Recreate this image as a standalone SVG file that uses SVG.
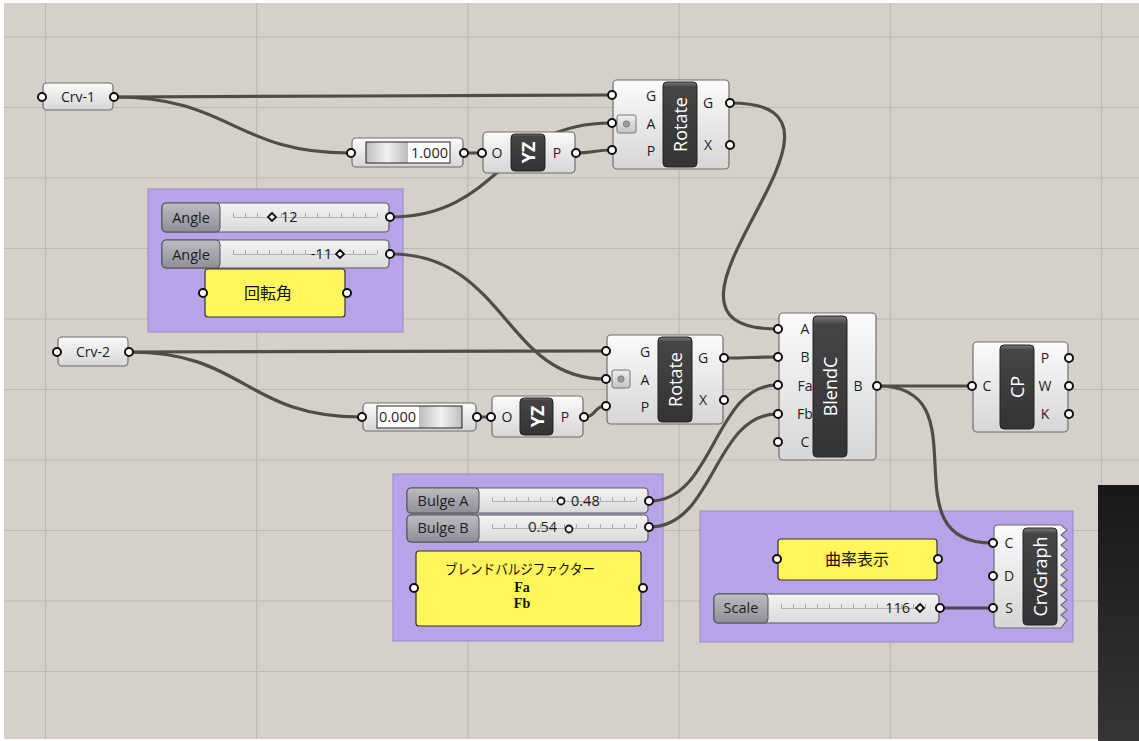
<svg xmlns="http://www.w3.org/2000/svg" width="1139" height="741" viewBox="0 0 1139 741">
<defs>
<linearGradient id="comp" x1="0" y1="0" x2="0" y2="1"><stop offset="0" stop-color="#fbfbfb"/><stop offset="1" stop-color="#d6d6d6"/></linearGradient>
<linearGradient id="dark" x1="0" y1="0" x2="0" y2="1"><stop offset="0" stop-color="#7a7a7a"/><stop offset="0.06" stop-color="#454545"/><stop offset="1" stop-color="#333333"/></linearGradient>
<linearGradient id="lbl" x1="0" y1="0" x2="0" y2="1"><stop offset="0" stop-color="#bdbcc3"/><stop offset="1" stop-color="#8f8e97"/></linearGradient>
<linearGradient id="sld" x1="0" y1="0" x2="0" y2="1"><stop offset="0" stop-color="#f4f4f4"/><stop offset="1" stop-color="#d9d9d9"/></linearGradient>
<linearGradient id="gbar" x1="0" y1="0" x2="1" y2="0"><stop offset="0" stop-color="#bcbcbc"/><stop offset="0.5" stop-color="#f2f2f2"/><stop offset="1" stop-color="#bcbcbc"/></linearGradient>
<linearGradient id="side" x1="0" y1="0" x2="0" y2="1"><stop offset="0" stop-color="#181818"/><stop offset="1" stop-color="#353535"/></linearGradient>
<linearGradient id="btn" x1="0" y1="0" x2="0" y2="1"><stop offset="0" stop-color="#f0f0f0"/><stop offset="1" stop-color="#c4c4c4"/></linearGradient>
</defs>
<style>
.comp{fill:url(#comp);stroke:#6e6e6e;stroke-width:1.2}
.dk{fill:url(#dark);stroke:#222;stroke-width:1}
.nm{font-family:"Open Sans","Liberation Sans",sans-serif;font-size:18px;fill:#ffffff;text-anchor:middle;dominant-baseline:central}
.pl{font-family:"Open Sans","Liberation Sans",sans-serif;font-size:14px;fill:#1e1e1e;text-anchor:middle;dominant-baseline:central}
.sl{font-family:"Open Sans","Liberation Sans",sans-serif;font-size:14.5px;fill:#1e1e1e;dominant-baseline:central}
.port{fill:#ffffff;stroke:#111;stroke-width:2}
.wire{fill:none;stroke:#4f4d49;stroke-width:3.2;stroke-linecap:round}
.grid{stroke:#bdb8b0;stroke-width:1.2}
.grp{fill:#b9a3e8;stroke:#a190cc;stroke-width:1.2}
.panel{fill:#fff65c;stroke:#333;stroke-width:1.2}
.lbl{fill:url(#lbl);stroke:#555;stroke-width:1}
.sbody{fill:url(#sld);stroke:#5a5a5a;stroke-width:1.2}
.tick{stroke:#a9a9a9;stroke-width:4;stroke-dasharray:1 11}
.base{stroke:#b0b0b0;stroke-width:1}
.mk{fill:#fff;stroke:#111;stroke-width:1.8}
.cjk{font-family:"Noto Sans CJK JP","Noto Sans",sans-serif;fill:#111;text-anchor:middle;dominant-baseline:central}
.mono{font-family:"Liberation Serif","Times New Roman",serif;font-size:14px;font-weight:bold;fill:#111;text-anchor:middle;dominant-baseline:central}
</style>
<rect x="0" y="0" width="1139" height="741" fill="#ffffff"/>
<rect x="4" y="3" width="1135" height="736" fill="#d5d1ca"/>
<g id="grid">
<line class="grid" x1="45.5" y1="3" x2="45.5" y2="739"/>
<line class="grid" x1="256.7" y1="3" x2="256.7" y2="739"/>
<line class="grid" x1="467.9" y1="3" x2="467.9" y2="739"/>
<line class="grid" x1="679.1" y1="3" x2="679.1" y2="739"/>
<line class="grid" x1="890.3" y1="3" x2="890.3" y2="739"/>
<line class="grid" x1="1101.5" y1="3" x2="1101.5" y2="739"/>
<line class="grid" x1="4" y1="37" x2="1139" y2="37"/>
<line class="grid" x1="4" y1="107.5" x2="1139" y2="107.5"/>
<line class="grid" x1="4" y1="178" x2="1139" y2="178"/>
<line class="grid" x1="4" y1="248.5" x2="1139" y2="248.5"/>
<line class="grid" x1="4" y1="319" x2="1139" y2="319"/>
<line class="grid" x1="4" y1="389.5" x2="1139" y2="389.5"/>
<line class="grid" x1="4" y1="460" x2="1139" y2="460"/>
<line class="grid" x1="4" y1="530.5" x2="1139" y2="530.5"/>
<line class="grid" x1="4" y1="601" x2="1139" y2="601"/>
<line class="grid" x1="4" y1="671.5" x2="1139" y2="671.5"/>
</g>
<rect x="1098" y="485" width="41" height="256" fill="url(#side)"/>
<g id="groups">
<rect id="grp-angle" class="grp" x="148" y="189" width="255" height="143"/>
<rect id="grp-bulge" class="grp" x="393" y="474" width="270" height="167"/>
<rect id="grp-curv" class="grp" x="700" y="511" width="373" height="131"/>
</g>
<g id="connectors">
<path class="wire" d="M115,97 C240,97 490,95 611,95"/>
<path class="wire" d="M115,97 C230,97 235,153 349,153"/>
<path class="wire" d="M465,153 L481,153"/>
<path class="wire" d="M577,153 C592,153 596,150 611,150"/>
<path class="wire" d="M391,217 C500,217 500,123 611,123"/>
<path class="wire" d="M391,254 C505,254 505,379 605,379"/>
<path class="wire" d="M130,352 C300,352 450,351 605,351"/>
<path class="wire" d="M130,352 C245,352 245,417 361,417"/>
<path class="wire" d="M478,417 L490,417"/>
<path class="wire" d="M585,417 C596,417 594,406 605,406"/>
<path class="wire" d="M731,103 C896,103 612,329 777,329"/>
<path class="wire" d="M725,358 C750,358 752,357 777,357"/>
<path class="wire" d="M650,501 C714,501 714,385 777,385"/>
<path class="wire" d="M650,527 C714,527 714,414 777,414"/>
<path class="wire" d="M878,386 L971,386"/>
<path class="wire" d="M878,386 C985,386 885,543 992,543"/>
<path class="wire" d="M941,608 L992,608" style="stroke:#4a4458"/>
</g>
<g id="crv1">
<rect class="comp" x="43" y="83" width="70" height="27" rx="4"/>
<text class="pl" x="78" y="96.5">Crv-1</text>
<circle class="port" cx="42" cy="97" r="4"/>
<circle class="port" cx="114" cy="97" r="4"/>
</g>
<g id="num1">
<rect class="comp" x="352" y="138" width="111" height="29" rx="4"/>
<rect x="366" y="142" width="42" height="21" fill="url(#gbar)"/>
<rect x="408" y="142" width="42" height="21" fill="#ffffff"/>
<rect x="366" y="142" width="84" height="21" fill="none" stroke="#222" stroke-width="1"/>
<text class="sl" x="448" y="152.5" text-anchor="end">1.000</text>
<circle class="port" cx="351" cy="153" r="4"/>
<circle class="port" cx="464" cy="153" r="4"/>
</g>
<g id="yz1">
<rect class="comp" x="483" y="132" width="92" height="41" rx="4"/>
<rect class="dk" x="511" y="134" width="34" height="37" rx="4"/>
<text class="pl" x="497" y="152.5">O</text>
<text class="pl" x="557" y="152.5">P</text>
<text class="nm" x="528" y="152.5" font-weight="bold" transform="rotate(-90 528 152.5)">YZ</text>
<circle class="port" cx="482" cy="153" r="4"/>
<circle class="port" cx="576" cy="153" r="4"/>
</g>
<g id="rotate1">
<rect class="comp" x="613" y="80" width="116" height="89" rx="4"/>
<rect class="dk" x="663" y="82" width="34" height="85" rx="4"/>
<rect x="617" y="115" width="19" height="18" rx="2" fill="url(#btn)" stroke="#777"/>
<circle cx="626.5" cy="124" r="3.2" fill="#9a9a9a" stroke="#777" stroke-width="0.8"/>
<text class="pl" x="651" y="95">G</text>
<text class="pl" x="651" y="123">A</text>
<text class="pl" x="651" y="150">P</text>
<text class="pl" x="708" y="102">G</text>
<text class="pl" x="708" y="144">X</text>
<text class="nm" x="680" y="124.5" transform="rotate(-90 680 124.5)">Rotate</text>
<circle class="port" cx="612" cy="95" r="4"/>
<circle class="port" cx="612" cy="123" r="4"/>
<circle class="port" cx="612" cy="150" r="4"/>
<circle class="port" cx="730" cy="103" r="4"/>
<circle class="port" cx="730" cy="145" r="4"/>
</g>
<g id="angle1">
<rect class="sbody" x="162" y="203" width="227" height="29" rx="4"/>
<rect class="lbl" x="162" y="203" width="58" height="29" rx="4"/>
<line class="base" x1="233" y1="217.5" x2="377" y2="217.5"/>
<line class="tick" x1="233" y1="215" x2="378" y2="215"/>
<text class="sl" x="191" y="217" text-anchor="middle">Angle</text>
<polygon class="mk" points="272,213 276,217 272,221 268,217"/>
<text class="sl" x="281" y="216.5">12</text>
<circle class="port" cx="390" cy="217" r="4"/>
</g>
<g id="angle2">
<rect class="sbody" x="162" y="240" width="227" height="28" rx="4"/>
<rect class="lbl" x="162" y="240" width="58" height="28" rx="4"/>
<line class="base" x1="233" y1="254.5" x2="377" y2="254.5"/>
<line class="tick" x1="233" y1="252" x2="378" y2="252"/>
<text class="sl" x="191" y="254" text-anchor="middle">Angle</text>
<text class="sl" x="332" y="253.5" text-anchor="end">-11</text>
<polygon class="mk" points="340,250 344,254 340,258 336,254"/>
<circle class="port" cx="390" cy="254" r="4"/>
</g>
<g id="panel-angle">
<rect class="panel" x="205" y="269" width="140" height="48" rx="3"/>
<text class="cjk" x="268" y="292" font-size="16">回転角</text>
<circle class="port" cx="203" cy="293" r="4"/>
<circle class="port" cx="347" cy="293" r="4"/>
</g>
<g id="crv2">
<rect class="comp" x="58" y="337" width="70" height="29" rx="4"/>
<text class="pl" x="93" y="351.5">Crv-2</text>
<circle class="port" cx="57" cy="352" r="4"/>
<circle class="port" cx="129" cy="352" r="4"/>
</g>
<g id="num2">
<rect class="comp" x="363" y="403" width="113" height="28" rx="4"/>
<rect x="377" y="406" width="42" height="22" fill="#ffffff"/>
<rect x="419" y="406" width="43" height="22" fill="url(#gbar)"/>
<rect x="377" y="406" width="85" height="22" fill="none" stroke="#222" stroke-width="1"/>
<text class="sl" x="379" y="416.5">0.000</text>
<circle class="port" cx="362" cy="417" r="4"/>
<circle class="port" cx="477" cy="417" r="4"/>
</g>
<g id="yz2">
<rect class="comp" x="492" y="396" width="91" height="41" rx="4"/>
<rect class="dk" x="520" y="398" width="33" height="37" rx="4"/>
<text class="pl" x="507" y="416.5">O</text>
<text class="pl" x="565" y="416.5">P</text>
<text class="nm" x="536.5" y="416.5" font-weight="bold" transform="rotate(-90 536.5 416.5)">YZ</text>
<circle class="port" cx="491" cy="417" r="4"/>
<circle class="port" cx="584" cy="417" r="4"/>
</g>
<g id="rotate2">
<rect class="comp" x="607" y="335" width="116" height="89" rx="4"/>
<rect class="dk" x="658" y="337" width="34" height="85" rx="4"/>
<rect x="612" y="370" width="18" height="18" rx="2" fill="url(#btn)" stroke="#777"/>
<circle cx="621" cy="379" r="3.2" fill="#9a9a9a" stroke="#777" stroke-width="0.8"/>
<text class="pl" x="645" y="351">G</text>
<text class="pl" x="645" y="379">A</text>
<text class="pl" x="645" y="406">P</text>
<text class="pl" x="703" y="357">G</text>
<text class="pl" x="703" y="399">X</text>
<text class="nm" x="675" y="379.5" transform="rotate(-90 675 379.5)">Rotate</text>
<circle class="port" cx="606" cy="351" r="4"/>
<circle class="port" cx="606" cy="379" r="4"/>
<circle class="port" cx="606" cy="406" r="4"/>
<circle class="port" cx="724" cy="358" r="4"/>
<circle class="port" cx="724" cy="400" r="4"/>
</g>
<g id="blendc">
<rect class="comp" x="779" y="313" width="97" height="147" rx="4"/>
<rect class="dk" x="813" y="316" width="34" height="141" rx="4"/>
<text class="pl" x="805" y="328.5" text-anchor="end">A</text>
<text class="pl" x="805" y="356.5" text-anchor="end">B</text>
<text class="pl" x="805" y="385" text-anchor="end">Fa</text>
<text class="pl" x="805" y="413.5" text-anchor="end">Fb</text>
<text class="pl" x="805" y="441.5" text-anchor="end">C</text>
<text class="pl" x="858" y="385.5">B</text>
<text class="nm" x="830" y="386.5" transform="rotate(-90 830 386.5)">BlendC</text>
<circle class="port" cx="778" cy="329" r="4"/>
<circle class="port" cx="778" cy="357" r="4"/>
<circle class="port" cx="778" cy="385" r="4"/>
<circle class="port" cx="778" cy="414" r="4"/>
<circle class="port" cx="778" cy="442" r="4"/>
<circle class="port" cx="877" cy="386" r="4"/>
</g>
<g id="cp">
<rect class="comp" x="973" y="342" width="95" height="90" rx="4"/>
<rect class="dk" x="1000" y="345" width="34" height="84" rx="4"/>
<text class="pl" x="987" y="385.5">C</text>
<text class="pl" x="1045" y="357.5">P</text>
<text class="pl" x="1045" y="385.5">W</text>
<text class="pl" x="1045" y="413.5">K</text>
<text class="nm" x="1017" y="387" transform="rotate(-90 1017 387)">CP</text>
<circle class="port" cx="972" cy="386" r="4"/>
<circle class="port" cx="1069" cy="358" r="4"/>
<circle class="port" cx="1069" cy="386" r="4"/>
<circle class="port" cx="1069" cy="414" r="4"/>
</g>
<g id="bulgeA">
<rect class="sbody" x="407" y="488" width="241" height="25" rx="4"/>
<rect class="lbl" x="407" y="488" width="72" height="25" rx="4"/>
<line class="base" x1="492" y1="501.5" x2="636" y2="501.5"/>
<line class="tick" x1="492" y1="499" x2="637" y2="499"/>
<text class="sl" x="443" y="500.5" text-anchor="middle">Bulge A</text>
<circle class="mk" cx="561" cy="501" r="3.5" stroke-width="2"/>
<text class="sl" x="571" y="500">0.48</text>
<circle class="port" cx="649" cy="501" r="4"/>
</g>
<g id="bulgeB">
<rect class="sbody" x="407" y="515" width="241" height="27" rx="4"/>
<rect class="lbl" x="407" y="515" width="72" height="27" rx="4"/>
<line class="base" x1="492" y1="528.5" x2="636" y2="528.5"/>
<line class="tick" x1="492" y1="526" x2="637" y2="526"/>
<text class="sl" x="443" y="527.5" text-anchor="middle">Bulge B</text>
<text class="sl" x="557" y="526.5" text-anchor="end">0.54</text>
<circle class="mk" cx="569" cy="529" r="3.5" stroke-width="2"/>
<circle class="port" cx="649" cy="527" r="4"/>
</g>
<g id="panel-bulge">
<rect class="panel" x="416" y="551" width="225" height="75" rx="3"/>
<text class="cjk" x="520" y="568" font-size="14" textLength="150" lengthAdjust="spacingAndGlyphs">ブレンドバルジファクター</text>
<text class="mono" x="522" y="587">Fa</text>
<text class="mono" x="522" y="603">Fb</text>
<circle class="port" cx="414" cy="588" r="4"/>
<circle class="port" cx="643" cy="588" r="4"/>
</g>
<g id="panel-curv">
<rect class="panel" x="778" y="539" width="159" height="41" rx="3"/>
<text class="cjk" x="857" y="558" font-size="16">曲率表示</text>
<circle class="port" cx="777" cy="559" r="4"/>
<circle class="port" cx="938" cy="559" r="4"/>
</g>
<g id="scale">
<rect class="sbody" x="714" y="594" width="225" height="29" rx="4"/>
<rect class="lbl" x="714" y="594" width="54" height="29" rx="4"/>
<line class="base" x1="781" y1="608.5" x2="926" y2="608.5"/>
<line class="tick" x1="781" y1="606" x2="927" y2="606"/>
<text class="sl" x="741" y="607.5" text-anchor="middle">Scale</text>
<text class="sl" x="910" y="607" text-anchor="end">116</text>
<polygon class="mk" points="920,604 924,608 920,612 916,608"/>
<circle class="port" cx="940" cy="608" r="4"/>
</g>
<g id="crvgraph">
<path class="comp" d="M998,525 L1061,525 L1067,530 L1061,535 L1067,540 L1061,545 L1067,550 L1061,555 L1067,560 L1061,565 L1067,570 L1061,575 L1067,580 L1061,585 L1067,590 L1061,595 L1067,600 L1061,605 L1067,610 L1061,615 L1067,620 L1061,628 L998,628 Q994,628 994,624 L994,529 Q994,525 998,525 Z"/>
<rect class="dk" x="1023" y="528" width="34" height="97" rx="4"/>
<text class="pl" x="1009" y="542.5">C</text>
<text class="pl" x="1009" y="575.5">D</text>
<text class="pl" x="1009" y="607">S</text>
<text class="nm" x="1040" y="576.5" transform="rotate(-90 1040 576.5)">CrvGraph</text>
<circle class="port" cx="993" cy="543" r="4"/>
<circle class="port" cx="993" cy="576" r="4"/>
<circle class="port" cx="993" cy="608" r="4"/>
</g>
</svg>
